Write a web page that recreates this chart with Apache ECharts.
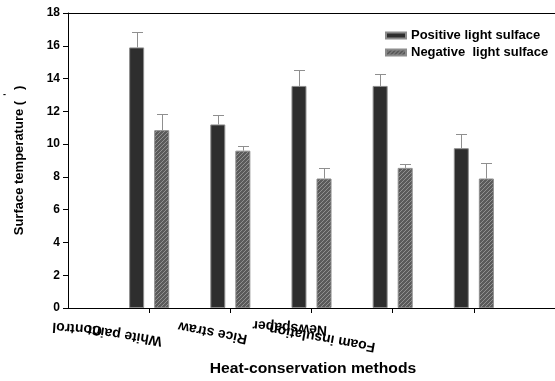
<!DOCTYPE html>
<html>
<head>
<meta charset="utf-8">
<script src="https://cdn.jsdelivr.net/npm/echarts@6/dist/echarts.min.js"></script>
<style>
html,body{margin:0;padding:0;background:#fff}
#chart{width:555px;height:381px}
</style>
</head>
<body>
<div id="chart"></div>
<script>
// methods in plotting order, plus an empty slot at each end of the axis
var methods = ['Control', 'White paint', 'Rice straw', 'Newspaper', 'Foam insulation'];
var slots = [''].concat(methods, ['']);

// mean surface temperature and error
var positive = [15.9, 11.2, 13.55, 13.55, 9.75];
var positiveErr = [0.95, 0.6, 0.95, 0.7, 0.85];
var negative = [10.85, 9.6, 7.9, 8.55, 7.9];
var negativeErr = [1.0, 0.3, 0.65, 0.25, 0.95];

var yTicks = [0, 2, 4, 6, 8, 10, 12, 14, 16, 18];

var FONT = '"Liberation Sans", Arial, sans-serif';

var hatch = document.createElement('canvas');
hatch.width = 4; hatch.height = 4;
var g = hatch.getContext('2d');
g.fillStyle = '#5a5a5a';
g.fillRect(0, 0, 4, 4);
g.strokeStyle = '#909090';
g.lineWidth = 1;
g.beginPath();
g.moveTo(-1, 5); g.lineTo(5, -1);
g.stroke();

function padded(arr){
    return ['-'].concat(arr, ['-']);
}

function errData(vals, errs){
    return vals.map(function(v, i){ return [i + 1, v, errs[i]]; });
}

function errRender(offset){
    return function(params, api){
        var base = api.coord([api.value(0), api.value(1)]);
        var top = api.coord([api.value(0), api.value(1) + api.value(2)]);
        var cx = Math.round(base[0] + offset) + 0.5;
        var ty = Math.round(top[1]) + 0.5;
        var st = {stroke: '#8f8f8f', lineWidth: 1};
        return {
            type: 'group',
            children: [
                {type: 'line', shape: {x1: cx, y1: base[1], x2: cx, y2: ty}, style: st},
                {type: 'line', shape: {x1: cx - 5.5, y1: ty, x2: cx + 5.5, y2: ty}, style: st}
            ]
        };
    };
}

// category labels are printed upside down and tilted in the original
var labelPos = [
    {x: 102, y: 330, r: 176},
    {x: 162, y: 341, r: 171},
    {x: 247, y: 339, r: 169},
    {x: 327, y: 330, r: 176},
    {x: 375, y: 347, r: 170}
];

var labelGraphics = methods.map(function(m, i){
    var p = labelPos[i];
    return {
        type: 'text', x: p.x, y: p.y, rotation: p.r * Math.PI / 180,
        style: {text: m, font: 'bold 14px ' + FONT, fill: '#000', textAlign: 'left', textVerticalAlign: 'middle'}
    };
});

var chart = echarts.init(document.getElementById('chart'));
chart.setOption({
    animation: false,
    backgroundColor: '#fff',
    grid: {left: 68, top: 13, right: -5, bottom: 73},
    legend: {
        data: ['Positive light sulface', 'Negative  light sulface'],
        orient: 'vertical', left: 380, top: 24, itemGap: 4,
        itemWidth: 20, itemHeight: 6, icon: 'rect',
        textStyle: {fontFamily: FONT, fontWeight: 'bold', fontSize: 13, color: '#000'}
    },
    xAxis: [{
        type: 'category', data: slots, boundaryGap: false,
        axisLine: {lineStyle: {color: '#000', width: 1}},
        axisTick: {length: 5, lineStyle: {color: '#000'}, interval: function(i){ return i > 0 && i < slots.length - 1; }},
        axisLabel: {show: false},
        splitLine: {show: false}
    }, {
        type: 'category', data: slots, boundaryGap: false, position: 'top',
        axisLine: {lineStyle: {color: '#000', width: 1}},
        axisTick: {show: false}, axisLabel: {show: false}
    }],
    yAxis: {
        type: 'value', min: 0, max: 18, interval: 2,
        name: 'Surface temperature (   )', nameLocation: 'middle', nameGap: 42,
        nameTextStyle: {fontFamily: FONT, fontWeight: 'bold', fontSize: 13, color: '#000'},
        axisLine: {show: true, lineStyle: {color: '#000', width: 1}},
        axisTick: {show: true, length: 5, lineStyle: {color: '#000'}},
        axisLabel: {margin: 8, fontFamily: FONT, fontWeight: 'bold', fontSize: 12, color: '#000',
            formatter: function(v){ return yTicks.indexOf(v) >= 0 ? String(v) : ''; }},
        splitLine: {show: false}
    },
    series: [{
        name: 'Positive light sulface', type: 'bar', data: padded(positive),
        barWidth: 15, barGap: '67%',
        itemStyle: {color: '#2e2e2e', borderColor: '#8c8c8c', borderWidth: 1}
    }, {
        name: 'Negative  light sulface', type: 'bar', data: padded(negative),
        barWidth: 15,
        itemStyle: {color: {image: hatch, repeat: 'repeat'}, borderColor: '#8c8c8c', borderWidth: 1}
    }, {
        type: 'custom', data: errData(positive, positiveErr), renderItem: errRender(-12.5), z: 1
    }, {
        type: 'custom', data: errData(negative, negativeErr), renderItem: errRender(12.5), z: 1
    }],
    graphic: labelGraphics.concat([{
        type: 'text', x: 313, y: 369, scaleX: 1.12,
        style: {text: 'Heat-conservation methods', font: 'bold 14px ' + FONT, fill: '#000',
            textAlign: 'center', textVerticalAlign: 'middle'}
    }, {
        type: 'text', x: 3, y: 90,
        style: {text: '-', font: 'bold 9px ' + FONT, fill: '#000'}
    }])
});
</script>
</body>
</html>
